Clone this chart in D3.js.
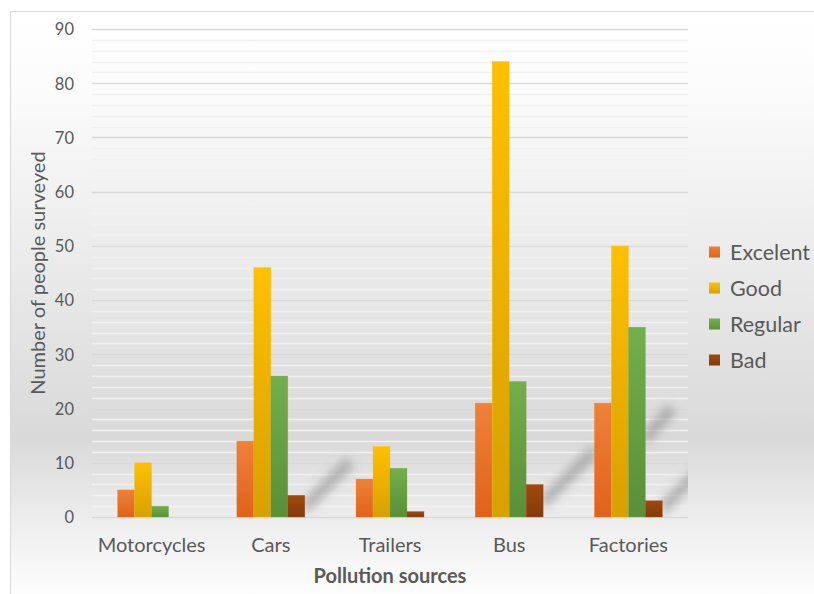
<!DOCTYPE html>
<html><head><meta charset="utf-8">
<script src="https://cdn.jsdelivr.net/npm/d3@7/dist/d3.min.js"></script>
<style>html,body{margin:0;padding:0;background:#fff;}svg{display:block;}</style>
</head><body>
<svg id="c" width="814" height="594"></svg>
<script>
const categories = ["Motorcycles","Cars","Trailers","Bus","Factories"];
const seriesNames = ["Excelent","Good","Regular","Bad"];
const excelent = [5,14,7,21,21];
const good = [10,46,13,84,50];
const regular = [2,26,9,25,35];
const bad = [0,4,1,6,3];
const yTicks = [0,10,20,30,40,50,60,70,80,90];
const seriesValues = [excelent, good, regular, bad];
const colorsTop = ["#ef8139","#ffc000","#73af4b","#a1490f"];
const colorsBot = ["#e0621a","#d8a000","#5a8f38","#823a0a"];
// decorative cast shadows: [category index, series index, start value, reach in value units]
const shadows = [[1,3,2.2,8],[3,3,3.2,9],[4,3,2,8],[4,2,15,5]];

(function(){
const svg = d3.select("#c");
const W = 814, H = 594;
const font = "Lato, 'Open Sans', sans-serif";
const textCol = "#595959";

const defs = svg.append("defs");
const bg = defs.append("linearGradient").attr("id","bg").attr("x1",0).attr("y1",0).attr("x2",0).attr("y2",1);
[[0,"#ffffff"],[0.12,"#fcfcfc"],[0.4,"#ececec"],[0.72,"#d9d9d9"],[0.86,"#eeeeee"],[1,"#ffffff"]]
  .forEach(([o,c])=>bg.append("stop").attr("offset",o).attr("stop-color",c));
seriesNames.forEach((s,i)=>{
  const g = defs.append("linearGradient").attr("id","g"+i).attr("x1",0).attr("y1",0).attr("x2",0).attr("y2",1);
  g.append("stop").attr("offset",0).attr("stop-color",colorsTop[i]);
  g.append("stop").attr("offset",1).attr("stop-color",colorsBot[i]);
});
defs.append("filter").attr("id","blur").attr("x","-50%").attr("y","-50%").attr("width","200%").attr("height","200%")
  .append("feGaussianBlur").attr("stdDeviation",4.5);

const pLeft = 92, pRight = 688, pTop = 29, pBottom = 517;
defs.append("clipPath").attr("id","plotclip").append("rect")
  .attr("x",pLeft).attr("y",pTop-5).attr("width",pRight-pLeft).attr("height",pBottom-pTop+5);

// frame
svg.append("rect").attr("x",10.5).attr("y",11.5).attr("width",W).attr("height",H)
  .attr("fill","url(#bg)").attr("stroke","#d9d9d9").attr("stroke-width",1);

const y = d3.scaleLinear().domain([0,90]).range([pBottom, pTop]);
const x0 = d3.scaleBand().domain(categories).range([pLeft, pRight]);
const groupW = x0.bandwidth()*0.57;
const x1 = d3.scaleBand().domain(seriesNames)
  .range([(x0.bandwidth()-groupW)/2, (x0.bandwidth()+groupW)/2]);

// gridlines
const minor = d3.range(0, 91, 2).filter(v => v % 10 !== 0);
svg.append("g").selectAll("line").data(minor).join("line")
  .attr("x1",pLeft).attr("x2",pRight).attr("y1",d=>Math.round(y(d))+0.5).attr("y2",d=>Math.round(y(d))+0.5)
  .attr("stroke","#f1f1f1").attr("stroke-width",1.6);
svg.append("g").selectAll("line").data(yTicks).join("line")
  .attr("x1",pLeft).attr("x2",pRight).attr("y1",d=>Math.round(y(d))+0.5).attr("y2",d=>Math.round(y(d))+0.5)
  .attr("stroke","#d9d9d9").attr("stroke-width",1.3);

// shadows
const sh = svg.append("g").attr("clip-path","url(#plotclip)").append("g").attr("filter","url(#blur)");
shadows.forEach(([ci,si,v,reach])=>{
  const bx = x0(categories[ci]) + x1(seriesNames[si]) + x1.bandwidth();
  const by = y(v);
  const dy = y(0) - y(reach);
  const dx = dy * 1.15, t = 9;
  const pts = [[bx-2,by-t/2],[bx+dx-t,by-dy-t/2],[bx+dx,by-dy+t/2],[bx+2,by+t]];
  sh.append("polygon").attr("points",pts.map(p=>p.join(",")).join(" "))
    .attr("fill","#8c8c8c").attr("opacity",0.55);
});

// bars
const data = [];
categories.forEach((c,ci)=>seriesNames.forEach((s,si)=>data.push({c,s,si,v:seriesValues[si][ci]})));
svg.append("g").selectAll("rect").data(data.filter(d=>d.v>0)).join("rect")
  .attr("x",d=>x0(d.c)+x1(d.s)).attr("width",x1.bandwidth())
  .attr("y",d=>y(d.v)).attr("height",d=>y(0)-y(d.v))
  .attr("fill",d=>"url(#g"+d.si+")")
  .attr("stroke",d=>colorsTop[d.si]).attr("stroke-opacity",0.5).attr("stroke-width",0.6);

// y axis tick labels
const yAxis = d3.axisLeft(y).tickValues(yTicks).tickSize(0).tickPadding(0);
const ya = svg.append("g").attr("transform","translate(74,0)").call(yAxis);
ya.select(".domain").remove();
ya.selectAll("text").attr("font-family",font).attr("font-size",16.5).attr("fill",textCol).attr("dy","0.35em");

// x axis labels
const xAxis = d3.axisBottom(x0).tickSize(0).tickPadding(0);
const xa = svg.append("g").attr("transform","translate(0,538)").call(xAxis);
xa.select(".domain").remove();
xa.selectAll("text").attr("font-family",font).attr("font-size",20).attr("fill",textCol).attr("dy","0.72em");

// titles
svg.append("text").attr("x",(pLeft+pRight)/2).attr("y",583).attr("text-anchor","middle")
  .attr("font-family",font).attr("font-size",20).attr("font-weight","bold").attr("fill",textCol)
  .text("Pollution sources");
svg.append("text").attr("transform",`translate(45,${(pTop+pBottom)/2}) rotate(-90)`).attr("text-anchor","middle")
  .attr("font-family",font).attr("font-size",20).attr("fill",textCol)
  .text("Number of people surveyed");

// legend
const lg = svg.append("g").attr("transform","translate(709,252)");
seriesNames.forEach((s,i)=>{
  const g = lg.append("g").attr("transform",`translate(0,${i*36})`);
  g.append("rect").attr("x",0).attr("y",-5.5).attr("width",11).attr("height",11).attr("fill","url(#g"+i+")");
  g.append("text").attr("x",21).attr("y",0).attr("dy","0.35em").attr("font-family",font)
    .attr("font-size",21.5).attr("fill",textCol).text(s);
});
})();
</script>
</body></html>
